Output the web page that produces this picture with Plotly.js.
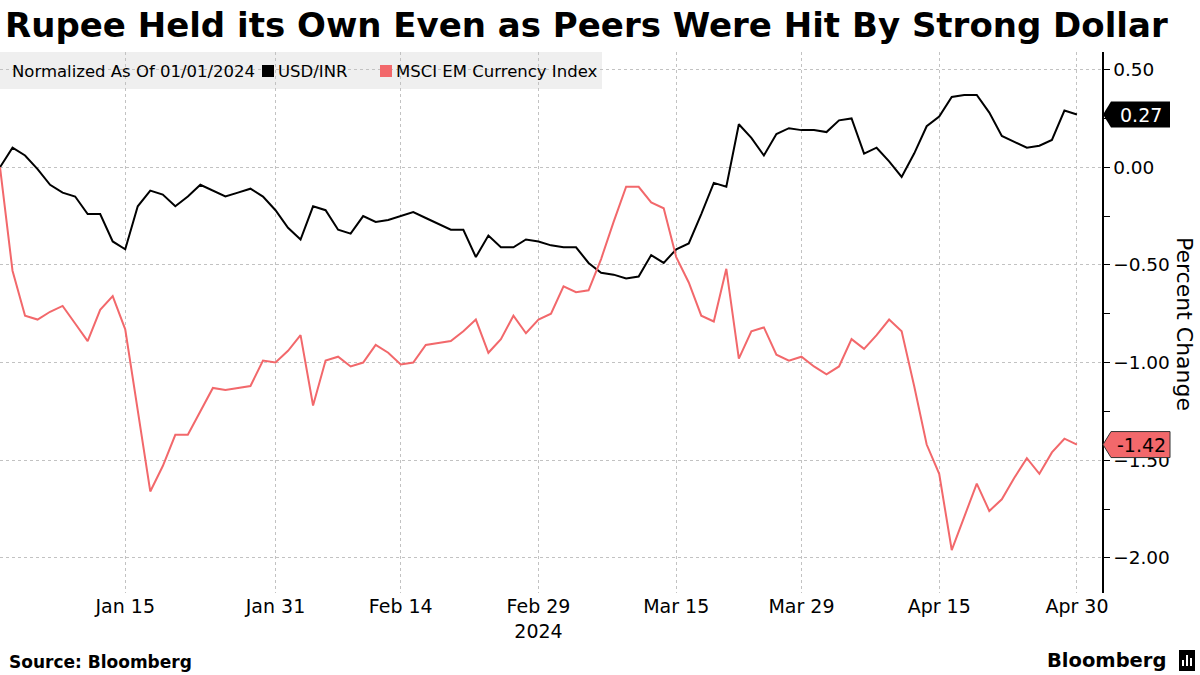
<!DOCTYPE html>
<html>
<head>
<meta charset="utf-8">
<script src="https://cdn.plot.ly/plotly-3.0.1.min.js"></script>
<style>
  html, body { margin: 0; padding: 0; background: #fff; }
  #chart { width: 1200px; height: 675px; }
</style>
</head>
<body>
<div id="chart"></div>
<script>
// ---- Data (trading days, normalized % change since 01/01/2024) ----
const dates = [
  '2024-01-01','2024-01-02','2024-01-03','2024-01-04','2024-01-05',
  '2024-01-08','2024-01-09','2024-01-10','2024-01-11','2024-01-12',
  '2024-01-15','2024-01-16','2024-01-17','2024-01-18','2024-01-19',
  '2024-01-22','2024-01-23','2024-01-24','2024-01-25','2024-01-26',
  '2024-01-29','2024-01-30','2024-01-31','2024-02-01','2024-02-02',
  '2024-02-05','2024-02-06','2024-02-07','2024-02-08','2024-02-09',
  '2024-02-12','2024-02-13','2024-02-14','2024-02-15','2024-02-16',
  '2024-02-19','2024-02-20','2024-02-21','2024-02-22','2024-02-23',
  '2024-02-26','2024-02-27','2024-02-28','2024-02-29','2024-03-01',
  '2024-03-04','2024-03-05','2024-03-06','2024-03-07','2024-03-08',
  '2024-03-11','2024-03-12','2024-03-13','2024-03-14','2024-03-15',
  '2024-03-18','2024-03-19','2024-03-20','2024-03-21','2024-03-22',
  '2024-03-25','2024-03-26','2024-03-27','2024-03-28','2024-03-29',
  '2024-04-01','2024-04-02','2024-04-03','2024-04-04','2024-04-05',
  '2024-04-08','2024-04-09','2024-04-10','2024-04-11','2024-04-12',
  '2024-04-15','2024-04-16','2024-04-17','2024-04-18','2024-04-19',
  '2024-04-22','2024-04-23','2024-04-24','2024-04-25','2024-04-26',
  '2024-04-29','2024-04-30'
];

const usdInr = [
   0.00, 0.10, 0.06,-0.01,-0.09,-0.13,-0.15,-0.24,-0.24,-0.38,
  -0.42,-0.20,-0.12,-0.14,-0.20,-0.15,-0.09,-0.12,-0.15,-0.13,
  -0.11,-0.15,-0.22,-0.31,-0.37,-0.20,-0.22,-0.32,-0.34,-0.25,
  -0.28,-0.27,-0.25,-0.23,-0.26,-0.29,-0.32,-0.32,-0.46,-0.35,
  -0.41,-0.41,-0.37,-0.38,-0.40,-0.41,-0.41,-0.49,-0.54,-0.55,
  -0.57,-0.56,-0.45,-0.49,-0.42,-0.39,-0.24,-0.08,-0.10, 0.22,
   0.15, 0.06, 0.17, 0.20, 0.19, 0.19, 0.18, 0.24, 0.25, 0.07,
   0.10, 0.03,-0.05, 0.07, 0.21, 0.26, 0.36, 0.37, 0.37, 0.28,
   0.16, 0.13, 0.10, 0.11, 0.14, 0.29, 0.27
];

const msciEm = [
   0.00,-0.53,-0.76,-0.78,-0.74,-0.71,-0.80,-0.89,-0.73,-0.66,
  -0.83,-1.25,-1.66,-1.53,-1.37,-1.37,-1.25,-1.13,-1.14,-1.13,
  -1.12,-0.99,-1.00,-0.94,-0.86,-1.22,-0.99,-0.97,-1.02,-1.00,
  -0.91,-0.95,-1.01,-1.00,-0.91,-0.90,-0.89,-0.84,-0.78,-0.95,
  -0.88,-0.76,-0.85,-0.78,-0.75,-0.61,-0.64,-0.63,-0.47,-0.28,
  -0.10,-0.10,-0.18,-0.21,-0.46,-0.59,-0.76,-0.79,-0.52,-0.98,
  -0.84,-0.82,-0.96,-0.99,-0.97,-1.02,-1.06,-1.02,-0.88,-0.93,
  -0.86,-0.78,-0.84,-1.12,-1.42,-1.57,-1.96,-1.79,-1.62,-1.76,
  -1.70,-1.59,-1.49,-1.57,-1.46,-1.39,-1.42
];

const tickDates  = ['2024-01-15','2024-01-31','2024-02-14','2024-02-29','2024-03-15','2024-03-29','2024-04-15','2024-04-30'];
const tickLabels = ['Jan 15','Jan 31','Feb 14','Feb 29<br>2024','Mar 15','Mar 29','Apr 15','Apr 30'];

const seriesNames = ['USD/INR', 'MSCI EM Currency Index'];
const titleText = 'Rupee Held its Own Even as Peers Were Hit By Strong Dollar';
const subtitleText = 'Normalized As Of 01/01/2024';
const yTitle = 'Percent Change';

// ---- Styling ----
const FONT = 'DejaVu Sans, Verdana, sans-serif';
const BLACK = '#000000';
const RED = '#f2686b';
const GRID = '#c2c2c2';

// plot-area pixel geometry
const W = 1200, H = 675;
const PL = 0, PR = 1102, PT = 52, PB = 593;
const px2x = p => (p - PL) / (PR - PL);
const py2y = p => (PB - p) / (PB - PT);

const traces = [
  { x: dates, y: usdInr, name: seriesNames[0], type: 'scatter', mode: 'lines',
    line: { color: BLACK, width: 2 }, hoverinfo: 'skip' },
  { x: dates, y: msciEm, name: seriesNames[1], type: 'scatter', mode: 'lines',
    line: { color: RED, width: 2 }, hoverinfo: 'skip' }
];

const lastUsd = usdInr[usdInr.length - 1];
const lastEm = msciEm[msciEm.length - 1];

const tagPath = 'M 1,0 L 9,13 L 68,13 L 68,-13 L 9,-13 Z';

const shapes = [
  // legend background
  { type: 'rect', xref: 'paper', yref: 'paper', x0: px2x(0), x1: px2x(602), y0: py2y(89), y1: py2y(52),
    fillcolor: 'rgba(238,238,238,0.92)', line: { width: 0 }, layer: 'below' },
  // legend swatches
  { type: 'rect', xref: 'paper', yref: 'paper', x0: px2x(262), x1: px2x(274), y0: py2y(77), y1: py2y(65),
    fillcolor: BLACK, line: { width: 0 }, layer: 'above' },
  { type: 'rect', xref: 'paper', yref: 'paper', x0: px2x(380), x1: px2x(392), y0: py2y(77), y1: py2y(65),
    fillcolor: RED, line: { width: 0 }, layer: 'above' },
  // last-value tags
  { type: 'path', xref: 'paper', yref: 'y', xsizemode: 'pixel', ysizemode: 'pixel',
    xanchor: 1, yanchor: lastUsd, path: tagPath, fillcolor: BLACK, line: { width: 0 }, layer: 'above' },
  { type: 'path', xref: 'paper', yref: 'y', xsizemode: 'pixel', ysizemode: 'pixel',
    xanchor: 1, yanchor: lastEm, path: tagPath, fillcolor: RED, line: { width: 1, color: '#333' }, layer: 'above' },
  // Bloomberg logo mark
  { type: 'rect', xref: 'paper', yref: 'paper', x0: px2x(1179), x1: px2x(1195), y0: py2y(671), y1: py2y(650),
    fillcolor: BLACK, line: { width: 0 }, layer: 'above' },
  { type: 'rect', xref: 'paper', yref: 'paper', x0: px2x(1182), x1: px2x(1184), y0: py2y(666), y1: py2y(660),
    fillcolor: '#fff', line: { width: 0 }, layer: 'above' },
  { type: 'rect', xref: 'paper', yref: 'paper', x0: px2x(1186), x1: px2x(1188), y0: py2y(666), y1: py2y(655),
    fillcolor: '#fff', line: { width: 0 }, layer: 'above' },
  { type: 'rect', xref: 'paper', yref: 'paper', x0: px2x(1190), x1: px2x(1192), y0: py2y(666), y1: py2y(658),
    fillcolor: '#fff', line: { width: 0 }, layer: 'above' }
];

const annotations = [
  { xref: 'paper', yref: 'paper', x: px2x(10), y: py2y(71), xanchor: 'left', yanchor: 'middle',
    text: subtitleText, showarrow: false, font: { family: FONT, size: 16.5, color: '#000' } },
  { xref: 'paper', yref: 'paper', x: px2x(276), y: py2y(71), xanchor: 'left', yanchor: 'middle',
    text: seriesNames[0], showarrow: false, font: { family: FONT, size: 16.5, color: '#000' } },
  { xref: 'paper', yref: 'paper', x: px2x(394), y: py2y(71), xanchor: 'left', yanchor: 'middle',
    text: seriesNames[1], showarrow: false, font: { family: FONT, size: 16.5, color: '#000' } },
  // last value labels
  { xref: 'paper', yref: 'y', x: 1, y: lastUsd, xshift: 39, xanchor: 'center', yanchor: 'middle',
    text: lastUsd.toFixed(2), showarrow: false, font: { family: FONT, size: 19, color: '#fff' } },
  { xref: 'paper', yref: 'y', x: 1, y: lastEm, xshift: 39, xanchor: 'center', yanchor: 'middle',
    text: lastEm.toFixed(2), showarrow: false, font: { family: FONT, size: 19, color: '#000' } },
  // y axis title (reads top to bottom)
  { xref: 'paper', yref: 'paper', x: px2x(1184), y: py2y(324), xanchor: 'center', yanchor: 'middle',
    text: yTitle, textangle: 90, showarrow: false, font: { family: FONT, size: 22, color: '#000' } },
  // footer
  { xref: 'paper', yref: 'paper', x: px2x(7), y: py2y(662), xanchor: 'left', yanchor: 'middle',
    text: '<b>Source: Bloomberg</b>', showarrow: false, font: { family: FONT, size: 17, color: '#000' } },
  { xref: 'paper', yref: 'paper', x: px2x(1168), y: py2y(660), xanchor: 'right', yanchor: 'middle',
    text: '<b>Bloomberg</b>', showarrow: false, font: { family: FONT, size: 19.5, color: '#000' } }
];

const layout = {
  width: W, height: H,
  margin: { l: PL, r: W - PR, t: PT, b: H - PB, pad: 0 },
  paper_bgcolor: '#fff', plot_bgcolor: '#fff',
  showlegend: false,
  title: {
    text: '<b>' + titleText + '</b>',
    x: 5 / W, xref: 'container', xanchor: 'left',
    y: 1 - 25 / H, yref: 'container', yanchor: 'middle',
    font: { family: FONT, size: 34, color: '#000' }
  },
  xaxis: {
    type: 'date',
    range: ['2024-01-01', '2024-05-02'],
    rangebreaks: [{ bounds: ['sat', 'mon'] }],
    tickmode: 'array', tickvals: tickDates, ticktext: tickLabels,
    showgrid: true, gridcolor: GRID, griddash: 'dot', gridwidth: 1,
    showline: false, zeroline: false, ticks: '',
    tickfont: { family: FONT, size: 19, color: '#000' },
    fixedrange: true
  },
  yaxis: {
    side: 'right',
    range: [-2.18, 0.59],
    tick0: 0, dtick: 0.5, tickformat: '.2f',
    showgrid: true, gridcolor: GRID, griddash: 'dot', gridwidth: 1,
    zeroline: false,
    showline: true, linecolor: '#000', linewidth: 1.5,
    ticks: 'outside', ticklen: 6, tickwidth: 1, tickcolor: '#000',
    minor: { tick0: 0, dtick: 0.25, ticks: 'outside', ticklen: 6, tickwidth: 1, tickcolor: '#000', showgrid: false },
    tickfont: { family: FONT, size: 18.5, color: '#000' },
    fixedrange: true
  },
  shapes: shapes,
  annotations: annotations
};

Plotly.newPlot('chart', traces, layout, { displayModeBar: false, staticPlot: true });
</script>
</body>
</html>
